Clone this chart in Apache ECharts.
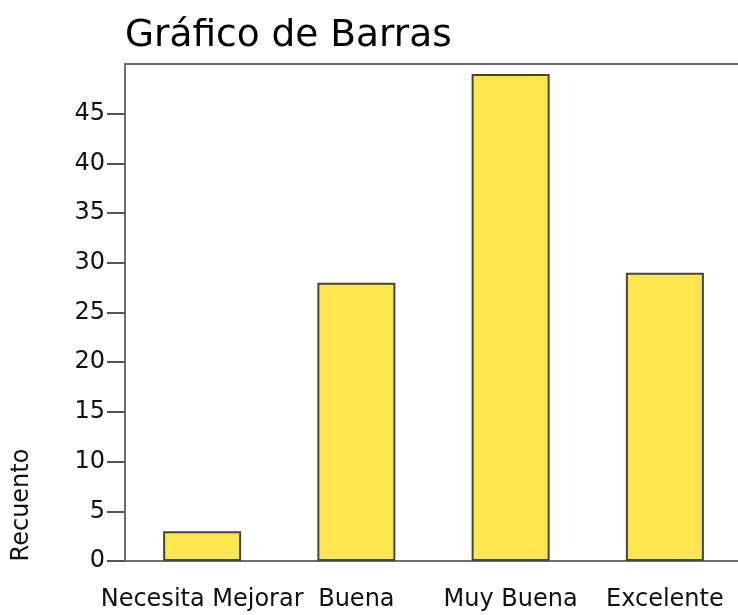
<!DOCTYPE html>
<html>
<head>
<meta charset="utf-8">
<title>Gráfico de Barras</title>
<script src="https://cdn.jsdelivr.net/npm/echarts@6/dist/echarts.min.js"></script>
<style>
  html, body { margin: 0; padding: 0; background: #fff; }
  #chart { width: 738px; height: 615px; }
</style>
</head>
<body>
<div id="chart"></div>
<script>
// datos
var categorias = ['Necesita Mejorar', 'Buena', 'Muy Buena', 'Excelente'];
var recuento = [3, 28, 49, 29];
var ticksY = [0, 5, 10, 15, 20, 25, 30, 35, 40, 45];

var chartDom = document.getElementById('chart');
var myChart = echarts.init(chartDom);
var option;

var fuente = 'DejaVu Sans';
var gris = '#6e6e6e';

option = {
  animation: false,
  title: {
    text: 'Gráfico de Barras',
    left: 120,
    top: 12,
    textStyle: { fontFamily: fuente, fontSize: 37.5, fontWeight: 'normal', color: '#000' }
  },
  grid: {
    left: 125,
    top: 64,
    width: 617,
    bottom: 54,
    show: true,
    borderColor: gris,
    borderWidth: 2,
    outerBoundsMode: 'none'
  },
  xAxis: {
    type: 'category',
    data: categorias,
    axisLine: { lineStyle: { color: gris, width: 2 } },
    axisTick: { alignWithLabel: true, length: 18, lineStyle: { color: '#555', width: 2 } },
    axisLabel: {
      margin: 27,
      interval: 0,
      fontFamily: fuente,
      fontSize: 24,
      color: '#111'
    }
  },
  yAxis: {
    type: 'value',
    min: 0,
    max: 50,
    interval: 5,
    splitLine: { show: false },
    axisLine: { show: true, lineStyle: { color: gris, width: 2 } },
    axisTick: { show: true, length: 18, customValues: ticksY, lineStyle: { color: '#555', width: 2 } },
    axisLabel: {
      margin: 20,
      customValues: ticksY,
      fontFamily: fuente,
      fontSize: 24,
      color: '#111'
    }
  },
  graphic: [
    {
      type: 'text',
      x: 22,
      y: 505,
      rotation: Math.PI / 2,
      style: {
        text: 'Recuento',
        fontFamily: fuente,
        fontSize: 24,
        fill: '#111',
        align: 'center',
        verticalAlign: 'middle'
      }
    }
  ],
  series: [
    {
      type: 'bar',
      data: recuento,
      barWidth: 78,
      itemStyle: {
        color: '#FDE64E',
        borderColor: '#444',
        borderWidth: 2
      }
    }
  ]
};

option && myChart.setOption(option);
</script>
</body>
</html>
